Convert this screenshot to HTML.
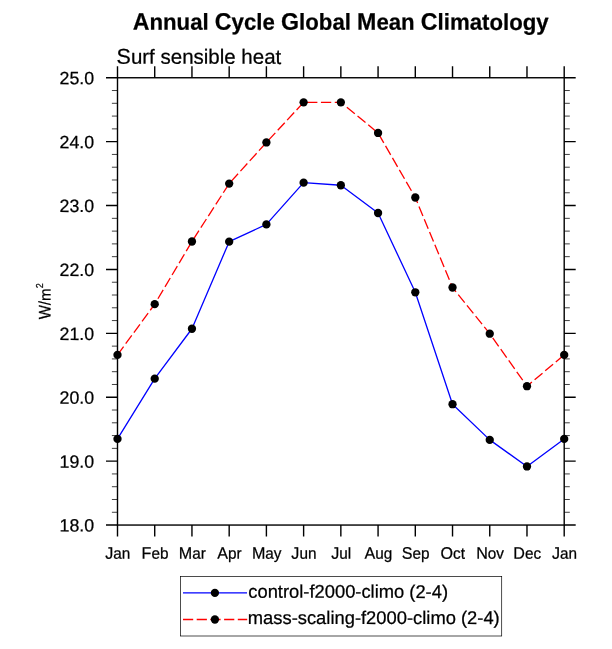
<!DOCTYPE html>
<html><head><meta charset="utf-8"><title>Annual Cycle Global Mean Climatology</title>
<style>html,body{margin:0;padding:0;background:#fff;}svg{display:block;will-change:transform;}text{font-family:"Liberation Sans",sans-serif;text-rendering:geometricPrecision;fill:#000;stroke:#000;stroke-width:0.24px;stroke-linejoin:round;}</style>
</head><body>
<svg width="612" height="649" viewBox="0 0 612 649">
<rect x="0" y="0" width="612" height="649" fill="#fff"/>
<text transform="translate(340.7 29.8) matrix(0.966 0.0005 0 1 0 0)" font-size="23" text-anchor="middle" font-weight="bold"><tspan font-size="24">A</tspan>nnual <tspan font-size="24">C</tspan>ycle <tspan font-size="24">G</tspan>lobal <tspan font-size="24">M</tspan>ean <tspan font-size="24">C</tspan>limatology</text>
<text transform="translate(116.6 63.8) matrix(0.997 0.0005 0 1 0 0)" font-size="20.55" text-anchor="start"><tspan font-size="21.5">S</tspan>urf sensible heat</text>
<g stroke="#000" stroke-width="1.4" fill="none" stroke-linecap="butt">
<rect x="117.5" y="77.75" width="446.70" height="447.30"/>
<path d="M117.50 77.75V66.25M117.50 525.05V536.55M154.72 77.75V66.25M154.72 525.05V536.55M191.95 77.75V66.25M191.95 525.05V536.55M229.18 77.75V66.25M229.18 525.05V536.55M266.40 77.75V66.25M266.40 525.05V536.55M303.62 77.75V66.25M303.62 525.05V536.55M340.85 77.75V66.25M340.85 525.05V536.55M378.07 77.75V66.25M378.07 525.05V536.55M415.30 77.75V66.25M415.30 525.05V536.55M452.53 77.75V66.25M452.53 525.05V536.55M489.75 77.75V66.25M489.75 525.05V536.55M526.98 77.75V66.25M526.98 525.05V536.55M564.20 77.75V66.25M564.20 525.05V536.55M117.5 77.75H106.00M564.2 77.75H575.70M117.5 141.65H106.00M564.2 141.65H575.70M117.5 205.55H106.00M564.2 205.55H575.70M117.5 269.45H106.00M564.2 269.45H575.70M117.5 333.35H106.00M564.2 333.35H575.70M117.5 397.25H106.00M564.2 397.25H575.70M117.5 461.15H106.00M564.2 461.15H575.70M117.5 525.05H106.00M564.2 525.05H575.70"/>
<path d="M117.5 90.53H111.90M564.2 90.53H569.80M117.5 103.31H111.90M564.2 103.31H569.80M117.5 116.09H111.90M564.2 116.09H569.80M117.5 128.87H111.90M564.2 128.87H569.80M117.5 154.43H111.90M564.2 154.43H569.80M117.5 167.21H111.90M564.2 167.21H569.80M117.5 179.99H111.90M564.2 179.99H569.80M117.5 192.77H111.90M564.2 192.77H569.80M117.5 218.33H111.90M564.2 218.33H569.80M117.5 231.11H111.90M564.2 231.11H569.80M117.5 243.89H111.90M564.2 243.89H569.80M117.5 256.67H111.90M564.2 256.67H569.80M117.5 282.23H111.90M564.2 282.23H569.80M117.5 295.01H111.90M564.2 295.01H569.80M117.5 307.79H111.90M564.2 307.79H569.80M117.5 320.57H111.90M564.2 320.57H569.80M117.5 346.13H111.90M564.2 346.13H569.80M117.5 358.91H111.90M564.2 358.91H569.80M117.5 371.69H111.90M564.2 371.69H569.80M117.5 384.47H111.90M564.2 384.47H569.80M117.5 410.03H111.90M564.2 410.03H569.80M117.5 422.81H111.90M564.2 422.81H569.80M117.5 435.59H111.90M564.2 435.59H569.80M117.5 448.37H111.90M564.2 448.37H569.80M117.5 473.93H111.90M564.2 473.93H569.80M117.5 486.71H111.90M564.2 486.71H569.80M117.5 499.49H111.90M564.2 499.49H569.80M117.5 512.27H111.90M564.2 512.27H569.80" stroke-width="0.75"/>
</g>
<text transform="translate(94.1 84.3) matrix(0.993 0.0005 0 1 0 0)" font-size="17.9" text-anchor="end">25.0</text>
<text transform="translate(94.1 148.2) matrix(0.993 0.0005 0 1 0 0)" font-size="17.9" text-anchor="end">24.0</text>
<text transform="translate(94.1 212.1) matrix(0.993 0.0005 0 1 0 0)" font-size="17.9" text-anchor="end">23.0</text>
<text transform="translate(94.1 276.0) matrix(0.993 0.0005 0 1 0 0)" font-size="17.9" text-anchor="end">22.0</text>
<text transform="translate(94.1 339.9) matrix(0.993 0.0005 0 1 0 0)" font-size="17.9" text-anchor="end">21.0</text>
<text transform="translate(94.1 403.8) matrix(0.993 0.0005 0 1 0 0)" font-size="17.9" text-anchor="end">20.0</text>
<text transform="translate(94.1 467.7) matrix(0.993 0.0005 0 1 0 0)" font-size="17.9" text-anchor="end">19.0</text>
<text transform="translate(94.1 531.6) matrix(0.993 0.0005 0 1 0 0)" font-size="17.9" text-anchor="end">18.0</text>
<text transform="translate(117.8 558.7) matrix(0.965 0.0005 0 1 0 0)" font-size="15.9" text-anchor="middle"><tspan font-size="16.7">J</tspan>an</text>
<text transform="translate(155.03 558.7) matrix(0.965 0.0005 0 1 0 0)" font-size="15.9" text-anchor="middle"><tspan font-size="16.7">F</tspan>eb</text>
<text transform="translate(192.25 558.7) matrix(0.965 0.0005 0 1 0 0)" font-size="15.9" text-anchor="middle"><tspan font-size="16.7">M</tspan>ar</text>
<text transform="translate(229.48 558.7) matrix(0.965 0.0005 0 1 0 0)" font-size="15.9" text-anchor="middle"><tspan font-size="16.7">A</tspan>pr</text>
<text transform="translate(266.7 558.7) matrix(0.965 0.0005 0 1 0 0)" font-size="15.9" text-anchor="middle"><tspan font-size="16.7">M</tspan>ay</text>
<text transform="translate(303.93 558.7) matrix(0.965 0.0005 0 1 0 0)" font-size="15.9" text-anchor="middle"><tspan font-size="16.7">J</tspan>un</text>
<text transform="translate(341.15 558.7) matrix(0.965 0.0005 0 1 0 0)" font-size="15.9" text-anchor="middle"><tspan font-size="16.7">J</tspan>ul</text>
<text transform="translate(378.38 558.7) matrix(0.965 0.0005 0 1 0 0)" font-size="15.9" text-anchor="middle"><tspan font-size="16.7">A</tspan>ug</text>
<text transform="translate(415.6 558.7) matrix(0.965 0.0005 0 1 0 0)" font-size="15.9" text-anchor="middle"><tspan font-size="16.7">S</tspan>ep</text>
<text transform="translate(452.83 558.7) matrix(0.965 0.0005 0 1 0 0)" font-size="15.9" text-anchor="middle"><tspan font-size="16.7">O</tspan>ct</text>
<text transform="translate(490.05 558.7) matrix(0.965 0.0005 0 1 0 0)" font-size="15.9" text-anchor="middle"><tspan font-size="16.7">N</tspan>ov</text>
<text transform="translate(527.27 558.7) matrix(0.965 0.0005 0 1 0 0)" font-size="15.9" text-anchor="middle"><tspan font-size="16.7">D</tspan>ec</text>
<text transform="translate(564.5 558.7) matrix(0.965 0.0005 0 1 0 0)" font-size="15.9" text-anchor="middle"><tspan font-size="16.7">J</tspan>an</text>
<g transform="translate(50.5 301.3) rotate(-90)"><text transform="translate(0.33 0) matrix(0.895 0.0005 0 1 0 0)" font-size="16.8" text-anchor="end">W/</text><text transform="translate(0.33 0) matrix(0.985 0.0005 0 1 0 0)" font-size="15.3" text-anchor="start">m</text><text transform="translate(13.1 -7.4) matrix(0.9 0.0005 0 1 0 0)" font-size="10.1" text-anchor="start">2</text></g>
<polyline points="117.50,438.9 154.72,378.63 191.95,328.75 229.18,241.65 266.40,224.4 303.62,182.65 340.85,185.25 378.07,213.0 415.30,292.3 452.53,404.2 489.75,439.9 526.98,466.45 564.20,438.9" fill="none" stroke="#0000ff" stroke-width="1.3" stroke-linejoin="round"/>
<polyline points="117.50,354.9 154.72,304.15 191.95,241.5 229.18,183.6 266.40,142.45 303.62,102.35 340.85,102.35 378.07,132.95 415.30,197.5 452.53,287.5 489.75,333.7 526.98,386.2 564.20,354.9" fill="none" stroke="#ff0000" stroke-width="1.3" stroke-dasharray="10.3 3.54" stroke-linejoin="round"/>
<g fill="#000">
<circle cx="117.50" cy="438.9" r="4.15"/>
<circle cx="154.72" cy="378.63" r="4.15"/>
<circle cx="191.95" cy="328.75" r="4.15"/>
<circle cx="229.18" cy="241.65" r="4.15"/>
<circle cx="266.40" cy="224.4" r="4.15"/>
<circle cx="303.62" cy="182.65" r="4.15"/>
<circle cx="340.85" cy="185.25" r="4.15"/>
<circle cx="378.07" cy="213.0" r="4.15"/>
<circle cx="415.30" cy="292.3" r="4.15"/>
<circle cx="452.53" cy="404.2" r="4.15"/>
<circle cx="489.75" cy="439.9" r="4.15"/>
<circle cx="526.98" cy="466.45" r="4.15"/>
<circle cx="564.20" cy="438.9" r="4.15"/>
<circle cx="117.50" cy="354.9" r="4.15"/>
<circle cx="154.72" cy="304.15" r="4.15"/>
<circle cx="191.95" cy="241.5" r="4.15"/>
<circle cx="229.18" cy="183.6" r="4.15"/>
<circle cx="266.40" cy="142.45" r="4.15"/>
<circle cx="303.62" cy="102.35" r="4.15"/>
<circle cx="340.85" cy="102.35" r="4.15"/>
<circle cx="378.07" cy="132.95" r="4.15"/>
<circle cx="415.30" cy="197.5" r="4.15"/>
<circle cx="452.53" cy="287.5" r="4.15"/>
<circle cx="489.75" cy="333.7" r="4.15"/>
<circle cx="526.98" cy="386.2" r="4.15"/>
<circle cx="564.20" cy="354.9" r="4.15"/>
</g>
<rect x="180.5" y="576.4" width="321.2" height="59.6" fill="#fff" stroke="#000" stroke-width="0.7"/>
<path d="M183 592.9H247" stroke="#0000ff" stroke-width="1.3" fill="none"/>
<path d="M183 619.5H247.2" stroke="#ff0000" stroke-width="1.3" stroke-dasharray="10.2 3.5" fill="none"/>
<circle cx="214.9" cy="592.9" r="4.15"/><circle cx="214.9" cy="619.5" r="4.15"/>
<text transform="translate(248.3 597.8) matrix(0.997 0.0005 0 1 0 0)" font-size="18.4" text-anchor="start">control-f2000-climo (2-4)</text>
<text transform="translate(247.8 624.0) matrix(0.998 0.0005 0 1 0 0)" font-size="18.4" text-anchor="start">mass-scaling-f2000-climo (2-4)</text>
</svg></body></html>
